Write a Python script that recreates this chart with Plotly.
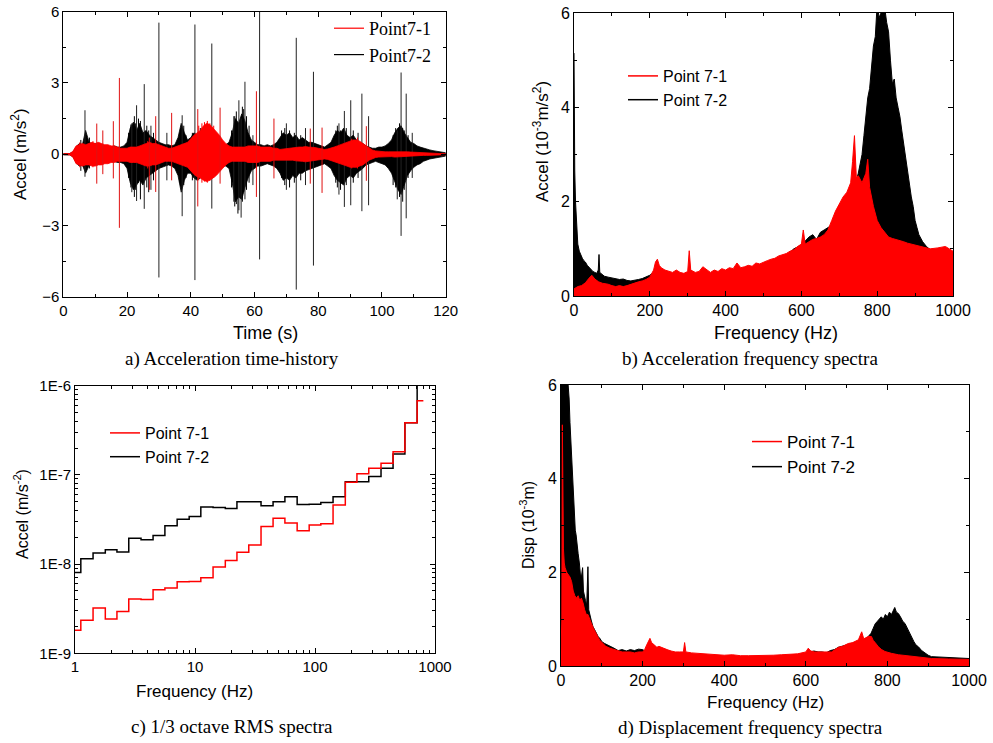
import plotly.graph_objects as go

# ---------------- Panel a: acceleration time history (envelopes) -------------
time_s = list(range(0, 121))
black_upper = [0.03,0.03,0.03,0.08,0.3,0.45,0.4,1.0,0.55,0.4,0.45,0.35,0.4,0.3,0.35,0.3,0.35,0.3,0.3,0.35,
               0.5,1.1,1.35,1.0,1.3,0.9,1.0,0.8,0.7,0.6,0.5,0.45,0.4,0.4,0.35,0.4,0.7,1.3,0.9,0.6,
               0.7,0.9,0.8,0.9,1.0,0.9,0.8,0.7,0.6,0.5,0.4,0.4,0.5,0.9,1.5,1.3,1.7,1.4,0.9,0.6,
               0.5,0.4,0.4,0.35,0.4,0.35,0.4,0.5,0.7,0.9,0.8,0.9,0.7,0.8,0.6,0.7,0.6,0.5,0.5,0.45,
               0.4,0.35,0.3,0.4,0.5,0.8,1.0,0.9,1.1,0.8,0.7,0.8,0.6,0.5,0.45,0.35,0.3,0.25,0.25,0.3,
               0.3,0.35,0.45,0.6,0.9,1.1,1.2,0.9,0.7,0.5,0.45,0.35,0.3,0.25,0.2,0.18,0.15,0.12,0.1,0.08,0.06]
black_lower = [0.03,0.03,0.03,0.1,0.35,0.5,0.45,0.8,0.5,0.4,0.4,0.35,0.35,0.3,0.3,0.3,0.3,0.35,0.35,0.4,
               0.6,1.2,1.5,1.3,1.1,1.3,1.0,0.9,0.8,0.7,0.6,0.55,0.5,0.45,0.5,0.6,0.9,1.6,1.1,0.8,
               0.8,1.0,1.1,1.0,1.0,0.9,0.9,0.8,0.8,0.6,0.5,0.5,0.6,1.2,2.0,1.8,1.9,1.4,1.0,0.7,
               0.6,0.5,0.5,0.45,0.4,0.45,0.5,0.6,0.8,1.1,1.0,1.1,0.9,1.0,0.8,0.8,0.7,0.65,0.6,0.55,
               0.5,0.45,0.4,0.5,0.6,0.9,1.1,1.2,1.3,1.0,0.9,1.0,0.8,0.7,0.6,0.45,0.4,0.35,0.3,0.35,
               0.4,0.45,0.6,0.8,1.1,1.5,1.7,1.3,0.9,0.7,0.55,0.45,0.4,0.3,0.25,0.2,0.17,0.14,0.12,0.1,0.08]
red_upper = [0.02,0.02,0.03,0.12,0.35,0.4,0.45,0.4,0.45,0.5,0.45,0.5,0.45,0.4,0.4,0.35,0.35,0.3,0.25,0.25,
             0.25,0.3,0.3,0.3,0.35,0.4,0.45,0.5,0.45,0.45,0.4,0.35,0.3,0.25,0.25,0.3,0.35,0.4,0.45,0.5,
             0.65,0.8,0.9,1.0,1.2,1.3,1.25,1.1,0.95,0.8,0.6,0.45,0.35,0.3,0.3,0.3,0.3,0.3,0.35,0.35,
             0.35,0.35,0.3,0.3,0.3,0.3,0.25,0.25,0.2,0.22,0.22,0.25,0.25,0.28,0.3,0.3,0.32,0.3,0.3,0.28,
             0.25,0.22,0.2,0.22,0.25,0.3,0.35,0.4,0.45,0.5,0.55,0.6,0.6,0.55,0.45,0.35,0.25,0.18,0.14,0.12,
             0.1,0.1,0.1,0.1,0.12,0.12,0.13,0.12,0.1,0.09,0.08,0.07,0.06,0.05,0.05,0.04,0.04,0.03,0.03,0.03,0.02]
red_lower = [0.02,0.02,0.03,0.12,0.4,0.45,0.5,0.45,0.45,0.5,0.5,0.45,0.45,0.4,0.4,0.35,0.35,0.3,0.3,0.3,
             0.3,0.35,0.35,0.35,0.4,0.45,0.5,0.5,0.45,0.45,0.4,0.35,0.3,0.3,0.3,0.35,0.4,0.45,0.5,0.55,
             0.7,0.85,0.95,1.0,1.1,1.15,1.1,1.0,0.9,0.75,0.6,0.45,0.35,0.3,0.3,0.3,0.3,0.3,0.35,0.35,
             0.35,0.35,0.3,0.3,0.3,0.3,0.25,0.25,0.22,0.22,0.22,0.25,0.25,0.28,0.3,0.3,0.32,0.3,0.3,0.28,
             0.25,0.22,0.2,0.22,0.25,0.3,0.35,0.4,0.45,0.5,0.55,0.55,0.55,0.5,0.45,0.35,0.25,0.18,0.14,0.12,
             0.1,0.1,0.1,0.1,0.12,0.12,0.13,0.12,0.1,0.09,0.08,0.07,0.06,0.05,0.05,0.04,0.04,0.03,0.03,0.03,0.02]
# isolated impact spikes
black_spike_t  = [6.8, 21.5, 23.0, 25.4, 27.5, 30.0, 32.5, 37.3, 41.3, 46.6, 53.5, 55.1, 55.8, 57.0, 59.5,
                  61.6, 70.0, 73.1, 76.0, 78.5, 86.5, 88.2, 90.2, 93.7, 95.8, 104.8, 106.0, 107.6, 109.5]
black_spike_hi = [1.85, 1.3, 2.06, 2.95, 1.2, 5.54, 0.9, 1.64, 5.46, 4.66, 1.6, 2.27, 1.5, 3.05, 0.8,
                  6.5, 1.3, 4.9, 1.1, 3.47, 1.3, 1.82, 2.27, 2.55, 1.6, 1.0, 3.44, 2.55, 0.9]
black_spike_lo = [-0.95, -1.6, -1.97, -2.3, -1.5, -5.19, -1.1, -2.61, -5.3, -2.29, -2.0, -2.36, -2.67, -1.9, -1.3,
                  -4.43, -1.5, -5.7, -1.3, -4.69, -1.7, -2.22, -2.15, -2.4, -2.15, -1.9, -3.44, -2.7, -1.0]
# smaller bursts inside the black texture
black_burst_t  = [5.5, 8.2, 20.5, 21.2, 22.3, 22.7, 23.6, 24.2, 26.2, 26.8, 28.3, 36.5, 37.8, 38.5, 40.5, 43.0,
                  44.5, 52.8, 53.8, 54.3, 54.8, 56.2, 56.6, 57.5, 58.3, 68.5, 69.5, 71.0, 72.5, 74.5, 85.5, 86.0,
                  87.0, 88.8, 91.0, 92.5, 103.5, 104.3, 105.5, 106.5, 107.0, 108.2]
black_burst_hi = [0.6, 0.7, 0.9, 1.25, 1.6, 1.3, 1.5, 1.4, 1.2, 1.0, 0.9, 0.9, 1.2, 0.8, 0.9, 1.1,
                  1.2, 1.0, 1.6, 1.8, 1.3, 2.0, 1.9, 1.6, 1.2, 1.0, 1.1, 1.0, 0.9, 0.8, 1.0, 1.2,
                  1.0, 1.1, 1.0, 0.9, 0.8, 1.1, 1.3, 1.1, 1.0, 0.8]
black_burst_lo = [-0.7, -0.6, -1.0, -1.4, -1.8, -1.5, -1.2, -1.9, -1.4, -1.6, -1.1, -1.2, -1.3, -1.0, -1.1, -1.0,
                  -1.0, -1.4, -2.2, -2.1, -2.5, -2.0, -1.6, -1.5, -1.2, -1.0, -1.3, -1.4, -1.2, -1.1, -1.2, -1.4,
                  -1.5, -1.3, -1.2, -1.0, -1.3, -1.4, -1.8, -2.0, -1.5, -1.0]
red_spike_t  = [10.5, 12.4, 15.7, 17.6, 27.0, 29.0, 34.0, 42.2, 49.2, 60.6, 66.1, 77.5, 81.2, 95.1]
red_spike_hi = [1.29, 1.0, 1.39, 3.21, 0.7, 1.6, 1.74, 1.9, 1.96, 2.65, 1.5, 1.08, 1.12, 1.18]
red_spike_lo = [-1.24, -0.84, -1.02, -3.1, -1.5, -1.59, -1.1, -2.2, -1.24, -1.8, -1.02, -1.24, -1.63, -1.12]
red_burst_t  = [5.2, 9.3, 26.5, 42.5, 43.5, 44.3, 45.2, 46.0, 47.2, 90.5, 92.3]
red_burst_hi = [0.5, 0.55, 0.55, 1.2, 1.3, 1.35, 1.4, 1.3, 1.2, 0.65, 0.7]
red_burst_lo = [-0.55, -0.55, -0.6, -1.1, -1.2, -1.15, -1.2, -1.1, -1.0, -0.6, -0.6]

# ---------------- Panel b: acceleration spectra (10^-3 m/s^2) ----------------
b_black_f = [0,1,2,4,6,8,10,14,18,22,26,30,35,40,45,50,55,60,64,66,68,75,80,90,100,110,120,130,140,150,160,170,
             180,190,200,210,220,300,400,500,560,580,600,620,630,640,650,660,670,680,690,700,720,740,750,760,765,
             770,775,780,785,790,795,800,805,810,815,820,825,830,835,840,845,850,855,860,865,870,875,880,885,890,
             895,900,905,910,920,930,940,950,960,970,980,990,1000]
b_black_v = [5.15,3.2,2.65,2.0,1.6,1.3,1.1,0.95,0.85,0.8,0.75,0.72,0.65,0.6,0.55,0.52,0.5,0.48,0.55,0.88,0.5,0.45,
             0.42,0.4,0.38,0.36,0.35,0.36,0.33,0.32,0.33,0.35,0.37,0.4,0.44,0.5,0.45,0.4,0.45,0.6,0.85,1.0,1.08,1.25,
             1.3,1.2,1.35,1.4,1.45,1.5,1.6,1.8,2.0,2.3,2.6,3.0,3.4,3.9,4.2,4.4,4.9,5.3,5.5,6.2,5.9,6.0,6.3,6.1,5.8,
             5.6,5.0,4.5,4.6,4.2,4.0,3.8,3.5,3.2,3.0,2.7,2.4,2.1,1.9,1.6,1.45,1.3,1.15,1.05,0.98,0.92,0.9,0.88,
             0.9,0.85,0.82]
b_red_f = [0,10,20,30,40,47,55,65,75,90,100,110,120,130,140,150,160,170,180,190,200,210,215,220,225,230,240,250,
           260,270,280,290,300,304,308,320,330,340,350,360,370,380,390,400,410,420,430,440,450,460,470,480,490,
           500,510,520,530,540,550,560,570,580,590,600,605,610,620,630,640,650,660,670,680,690,700,710,720,730,
           735,740,745,750,760,770,775,780,790,800,810,820,830,840,850,860,870,880,890,900,920,940,960,980,1000]
b_red_v = [0.15,0.2,0.22,0.28,0.38,0.44,0.36,0.3,0.27,0.25,0.22,0.2,0.22,0.2,0.22,0.25,0.27,0.3,0.32,0.35,0.4,
           0.55,0.72,0.78,0.65,0.6,0.55,0.52,0.5,0.55,0.5,0.48,0.52,0.96,0.55,0.5,0.52,0.62,0.55,0.5,0.55,0.52,
           0.58,0.55,0.6,0.58,0.7,0.6,0.62,0.65,0.63,0.7,0.68,0.72,0.75,0.78,0.8,0.85,0.88,0.9,0.95,0.98,1.05,
           1.1,1.4,1.1,1.15,1.2,1.22,1.25,1.3,1.4,1.6,1.8,1.95,2.1,2.2,2.4,2.85,3.4,2.5,2.55,2.4,2.6,2.9,2.3,
           1.9,1.6,1.45,1.35,1.25,1.22,1.2,1.18,1.15,1.12,1.1,1.08,1.05,1.0,1.02,1.05,0.95]

# ---------------- Panel c: 1/3 octave RMS spectra ----------------
band_hz = [1,1.25,1.6,2,2.5,3.15,4,5,6.3,8,10,12.5,16,20,25,31.5,40,50,63,80,100,125,160,200,250,315,400,500,630,800]
rms_7_1 = [1.81e-9,2.34e-9,3.21e-9,2.42e-9,2.95e-9,4.06e-9,4.0e-9,5.16e-9,5.4e-9,6.34e-9,6.4e-9,7.03e-9,9.25e-9,
           1.10e-8,1.36e-8,1.64e-8,2.64e-8,3.27e-8,2.88e-8,2.36e-8,2.75e-8,2.83e-8,4.61e-8,8.28e-8,1.03e-7,1.19e-7,
           1.35e-7,1.82e-7,3.85e-7,6.8e-7]
rms_7_2 = [8.07e-9,1.15e-8,1.33e-8,1.45e-8,1.37e-8,1.95e-8,1.87e-8,2.09e-8,2.69e-8,3.19e-8,3.41e-8,4.38e-8,4.3e-8,
           4.2e-8,5.0e-8,5.0e-8,4.5e-8,5.0e-8,5.7e-8,4.65e-8,4.7e-8,4.9e-8,5.7e-8,8.4e-8,8.4e-8,9.6e-8,1.19e-7,
           1.72e-7,3.85e-7,1.3e-6]

# ---------------- Panel d: displacement spectra (10^-3 m) ----------------
d_black_f = [0,5,10,15,18,20,22,25,27,29,31,33,35,37,40,42,45,48,50,53,55,57,60,63,66,68,70,74,78,82,86,91,96,100,
             107,115,123,130,140,150,160,170,180,190,200,210,300,400,500,600,610,620,630,640,650,660,670,680,700,
             720,740,750,760,765,770,775,780,785,790,795,800,805,810,815,818,822,827,832,838,843,850,855,859,865,
             870,876,884,892,900,908,930,950,970,1000]
d_black_v = [6.5,6.5,6.5,6.3,6.0,5.7,5.2,4.7,4.2,3.8,3.4,3.1,2.9,2.8,2.5,2.4,2.2,1.9,1.9,2.1,1.6,1.5,1.4,1.3,2.12,
             1.2,1.1,0.98,0.85,0.78,0.7,0.63,0.58,0.52,0.48,0.45,0.41,0.38,0.33,0.35,0.32,0.35,0.33,0.36,0.35,0.3,
             0.22,0.18,0.18,0.25,0.3,0.32,0.3,0.3,0.28,0.33,0.35,0.4,0.45,0.5,0.55,0.6,0.7,0.8,0.9,0.95,1.0,1.05,
             1.0,1.1,1.05,1.15,1.1,1.2,1.25,1.15,1.12,1.05,0.95,0.91,0.78,0.7,0.63,0.52,0.45,0.41,0.33,0.27,0.23,
             0.2,0.19,0.18,0.17,0.16]
d_red_f = [0,2,3.3,4.5,6,8,10,14,18,22,26,30,34,38,42,46,50,54,58,62,66,70,75,80,85,90,95,100,110,120,130,140,150,
           160,170,180,190,200,205,210,215,218,222,228,235,240,250,260,270,280,290,300,303,306,320,340,360,380,400,
           420,440,460,480,500,520,540,560,580,600,606,612,622,640,663,680,690,704,715,729,737,742,753,761,765,770,
           778,786,794,810,827,848,868,888,908,950,1000]
d_red_v = [0.3,1.0,5.15,3.5,2.5,2.2,2.1,2.0,1.95,1.9,1.8,1.6,1.5,1.45,1.5,1.4,1.45,1.35,1.2,1.1,1.1,1.0,0.9,0.8,0.7,
           0.63,0.55,0.5,0.42,0.38,0.35,0.33,0.3,0.3,0.3,0.28,0.3,0.3,0.35,0.45,0.55,0.59,0.5,0.45,0.4,0.42,0.38,
           0.35,0.32,0.3,0.3,0.3,0.5,0.3,0.28,0.27,0.25,0.24,0.23,0.24,0.22,0.22,0.22,0.22,0.23,0.24,0.25,0.26,0.3,
           0.38,0.32,0.3,0.3,0.3,0.4,0.42,0.48,0.5,0.56,0.73,0.58,0.63,0.63,0.55,0.5,0.41,0.35,0.31,0.27,0.24,0.22,
           0.2,0.18,0.16,0.15,0.14]

RED = "#ff0000"
BLACK = "#000000"
W, H = 993, 743
SANS = "Liberation Sans"
SERIF = "Liberation Serif"


def band(x, up, lo):
    xs = list(x) + list(x)[::-1]
    ys = list(up) + [-v for v in lo][::-1]
    return xs, ys


def spikes(t, hi, lo):
    xs, ys = [], []
    for ti, h, l in zip(t, hi, lo):
        xs += [ti, ti, None]
        ys += [l, h, None]
    return xs, ys


fig = go.Figure()

# panel a
bx, by = band(time_s, black_upper, black_lower)
fig.add_trace(go.Scatter(x=bx, y=by, fill="toself", fillcolor=BLACK, mode="lines",
                         line=dict(color=BLACK, width=0.8), showlegend=False, xaxis="x", yaxis="y"))
sx, sy = spikes(black_burst_t, black_burst_hi, black_burst_lo)
fig.add_trace(go.Scatter(x=sx, y=sy, mode="lines", line=dict(color=BLACK, width=1),
                         showlegend=False, xaxis="x", yaxis="y"))
sx, sy = spikes(black_spike_t, black_spike_hi, black_spike_lo)
fig.add_trace(go.Scatter(x=sx, y=sy, mode="lines", line=dict(color="#222222", width=1),
                         showlegend=False, xaxis="x", yaxis="y"))
rx, ry = band(time_s, red_upper, red_lower)
fig.add_trace(go.Scatter(x=rx, y=ry, fill="toself", fillcolor=RED, mode="lines",
                         line=dict(color=RED, width=0.8), showlegend=False, xaxis="x", yaxis="y"))
sx, sy = spikes(red_burst_t, red_burst_hi, red_burst_lo)
fig.add_trace(go.Scatter(x=sx, y=sy, mode="lines", line=dict(color=RED, width=1),
                         showlegend=False, xaxis="x", yaxis="y"))
sx, sy = spikes(red_spike_t, red_spike_hi, red_spike_lo)
fig.add_trace(go.Scatter(x=sx, y=sy, mode="lines", line=dict(color="#e01010", width=1),
                         showlegend=False, xaxis="x", yaxis="y"))
fig.add_trace(go.Scatter(x=[None], y=[None], mode="lines", line=dict(color=RED, width=1.2),
                         name="Point7-1", legend="legend", xaxis="x", yaxis="y"))
fig.add_trace(go.Scatter(x=[None], y=[None], mode="lines", line=dict(color=BLACK, width=1.2),
                         name="Point7-2", legend="legend", xaxis="x", yaxis="y"))

# panel b
fig.add_trace(go.Scatter(x=b_black_f, y=b_black_v, fill="tozeroy", fillcolor=BLACK, mode="lines",
                         line=dict(color=BLACK, width=1), showlegend=False, xaxis="x2", yaxis="y2"))
fig.add_trace(go.Scatter(x=b_red_f, y=b_red_v, fill="tozeroy", fillcolor=RED, mode="lines",
                         line=dict(color=RED, width=1), showlegend=False, xaxis="x2", yaxis="y2"))
fig.add_trace(go.Scatter(x=[None], y=[None], mode="lines", line=dict(color=RED, width=1.5),
                         name="Point 7-1", legend="legend2", xaxis="x2", yaxis="y2"))
fig.add_trace(go.Scatter(x=[None], y=[None], mode="lines", line=dict(color=BLACK, width=1.5),
                         name="Point 7-2", legend="legend2", xaxis="x2", yaxis="y2"))

# panel c
fig.add_trace(go.Scatter(x=band_hz, y=rms_7_2, mode="lines", line=dict(color=BLACK, width=1.5, shape="hvh"),
                         name="Point 7-2", showlegend=False, xaxis="x3", yaxis="y3"))
fig.add_trace(go.Scatter(x=band_hz, y=rms_7_1, mode="lines", line=dict(color=RED, width=1.5, shape="hvh"),
                         name="Point 7-1", showlegend=False, xaxis="x3", yaxis="y3"))
fig.add_trace(go.Scatter(x=[None], y=[None], mode="lines", line=dict(color=RED, width=1.5),
                         name="Point 7-1", legend="legend3", xaxis="x3", yaxis="y3"))
fig.add_trace(go.Scatter(x=[None], y=[None], mode="lines", line=dict(color=BLACK, width=1.5),
                         name="Point 7-2", legend="legend3", xaxis="x3", yaxis="y3"))

# panel d
fig.add_trace(go.Scatter(x=d_black_f, y=d_black_v, fill="tozeroy", fillcolor=BLACK, mode="lines",
                         line=dict(color=BLACK, width=1), showlegend=False, xaxis="x4", yaxis="y4"))
fig.add_trace(go.Scatter(x=d_red_f, y=d_red_v, fill="tozeroy", fillcolor=RED, mode="lines",
                         line=dict(color=RED, width=1), showlegend=False, xaxis="x4", yaxis="y4"))
fig.add_trace(go.Scatter(x=[None], y=[None], mode="lines", line=dict(color=RED, width=1.5),
                         name="Point 7-1", legend="legend4", xaxis="x4", yaxis="y4"))
fig.add_trace(go.Scatter(x=[None], y=[None], mode="lines", line=dict(color=BLACK, width=1.5),
                         name="Point 7-2", legend="legend4", xaxis="x4", yaxis="y4"))


# positions below are given in screen pixels of the 993x743 window
def px_x(p):
    return p / W


def px_y(p):
    return 1 - p / H


def axis(domain, anchor, rng, dtick=None, minor_dtick=None, fs=15, **kw):
    d = dict(domain=domain, anchor=anchor, range=rng, showline=True, linecolor="black", linewidth=1,
             mirror="ticks", ticks="inside", ticklen=5, tickwidth=1, tickcolor="black",
             showgrid=False, zeroline=False, automargin=False, ticklabeloverflow="allow",
             tickfont=dict(family=SANS, size=fs, color="black"))
    if dtick is not None:
        d.update(dtick=dtick, tick0=0)
    if minor_dtick is not None:
        d["minor"] = dict(ticks="inside", ticklen=3, tickwidth=1, tickcolor="black", dtick=minor_dtick, tick0=0)
    d.update(kw)
    return d


dom_a = ([px_x(63.3), px_x(445.7)], [px_y(296.7), px_y(11.7)])
dom_b = ([px_x(574), px_x(953)], [px_y(296), px_y(13)])
dom_c = ([px_x(75), px_x(435)], [px_y(653.3), px_y(385.7)])
dom_d = ([px_x(561), px_x(969)], [px_y(666), px_y(385)])

log_minor_x = [k * 10 ** e for e in range(0, 3) for k in range(2, 10)]
log_minor_y = [k * 10.0 ** e for e in range(-9, -6) for k in range(2, 10)]

layout = dict(
    width=W, height=H, margin=dict(l=0, r=0, t=0, b=0, pad=0, autoexpand=False),
    paper_bgcolor="white", plot_bgcolor="white",
    xaxis=axis(dom_a[0], "y", [0, 120], 20, 10, 15),
    yaxis=axis(dom_a[1], "x", [-6, 6], 3, 1.5, 15),
    xaxis2=axis(dom_b[0], "y2", [0, 1000], 200, 100, 16),
    yaxis2=axis(dom_b[1], "x2", [0, 6], 2, 1, 16),
    xaxis3=axis(dom_c[0], "y3", [0, 3], fs=15, type="log", tickvals=[1, 10, 100, 1000],
                ticktext=["1", "10", "100", "1000"],
                minor=dict(ticks="inside", ticklen=3, tickwidth=1, tickcolor="black", tickvals=log_minor_x)),
    yaxis3=axis(dom_c[1], "x3", [-9, -6], fs=15, type="log", tickvals=[1e-9, 1e-8, 1e-7, 1e-6],
                ticktext=["1E-9", "1E-8", "1E-7", "1E-6"],
                minor=dict(ticks="inside", ticklen=3, tickwidth=1, tickcolor="black", tickvals=log_minor_y)),
    xaxis4=axis(dom_d[0], "y4", [0, 1000], 200, 100, 16),
    yaxis4=axis(dom_d[1], "x4", [0, 6], 2, 1, 16),
    legend=dict(x=px_x(329), y=px_y(10), xanchor="left", yanchor="top", bgcolor="rgba(0,0,0,0)",
                font=dict(family=SERIF, size=18, color="black"), itemwidth=30),
    legend2=dict(x=px_x(623), y=px_y(59), xanchor="left", yanchor="top", bgcolor="rgba(0,0,0,0)",
                 font=dict(family=SANS, size=16, color="black"), itemwidth=30),
    legend3=dict(x=px_x(105), y=px_y(416), xanchor="left", yanchor="top", bgcolor="rgba(0,0,0,0)",
                 font=dict(family=SANS, size=16, color="black"), itemwidth=30),
    legend4=dict(x=px_x(747), y=px_y(424), xanchor="left", yanchor="top", bgcolor="rgba(0,0,0,0)",
                 font=dict(family=SANS, size=17, color="black"), itemwidth=30),
)


def note(text, x, y, size, family=SANS, angle=0):
    return dict(text=text, x=px_x(x), y=px_y(y), xref="paper", yref="paper", showarrow=False,
                xanchor="center", yanchor="middle", textangle=angle,
                font=dict(family=family, size=size, color="black"))


layout["annotations"] = [
    note("Accel (m/s<sup>2</sup>)", 19, 154, 17, angle=-90),
    note("Time (s)", 265, 333, 18),
    note("a) Acceleration time-history", 232, 359, 19, SERIF),
    note("Accel (10<sup>-3</sup>m/s<sup>2</sup>)", 541, 142, 17, angle=-90),
    note("Frequency (Hz)", 776, 333, 18),
    note("b) Acceleration frequency spectra", 750, 359, 19, SERIF),
    note("Accel (m/s<sup>-2</sup>)", 21, 514, 16, angle=-90),
    note("Frequency (Hz)", 194, 691, 17),
    note("c) 1/3 octave RMS spectra", 232, 727, 19, SERIF),
    note("Disp (10<sup>-3</sup>m)", 527, 525, 16, angle=-90),
    note("Frequency (Hz)", 765, 702, 17),
    note("d) Displacement frequency spectra", 750, 728, 19, SERIF),
]

fig.update_layout(**layout)
# remove the browser's default 8px page margin so the 993x743 figure fills the window exactly
fig.write_html("out.html", config={"displayModeBar": False},
               post_script="document.body.style.margin='0';")
